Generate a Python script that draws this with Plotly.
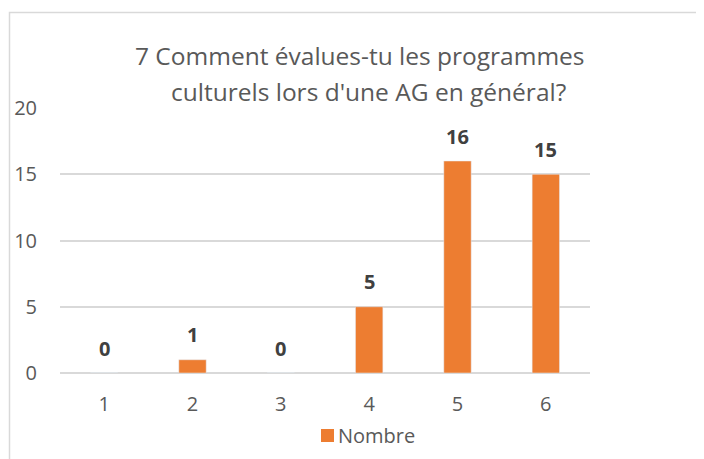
import plotly.graph_objects as go

categories = ["1", "2", "3", "4", "5", "6"]
nombre = [0, 1, 0, 5, 16, 15]
y_ticks = [0, 5, 10, 15, 20]
series_name = "Nombre"

title_lines = ["7 Comment évalues-tu les programmes",
               "culturels lors d'une AG en général?"]

# page body has an 8px margin, so the figure is a bit smaller than the window
W, H = 696, 451
ML, MR, MT, MB = 52, 114, 100, 86
FONT = "Open Sans"
GREY = "#595959"
DARK = "#404040"
ORANGE = "#ED7D31"
LINE = "#D9D9D9"

pw = W - ML - MR
ph = H - MT - MB


def px_x(x):
    return (x - ML) / pw


def px_y(y):
    return 1 - (y - MT) / ph


fig = go.Figure()
fig.add_trace(go.Bar(
    x=categories,
    y=nombre,
    name=series_name,
    marker_color=ORANGE,
    showlegend=False,
))

# bold value labels above the bars (category axis -> use index positions)
for i, v in enumerate(nombre):
    fig.add_annotation(
        x=i, y=v, text=f"<b>{v}</b>", showarrow=False,
        yanchor="middle", yshift=25,
        font=dict(family=FONT, size=20, color=DARK),
    )

fig.update_layout(
    width=W, height=H,
    margin=dict(l=ML, r=MR, t=MT, b=MB),
    paper_bgcolor="white",
    plot_bgcolor="white",
    bargap=0.69,
    font=dict(family=FONT, size=20, color=GREY),
    showlegend=False,
)

fig.update_xaxes(
    type="category",
    range=[-0.5, len(categories) - 0.5],
    automargin=False,
    showgrid=False,
    showline=False,
    ticks="",
    ticklabelstandoff=17,
    tickfont=dict(size=20, color=GREY),
)
fig.update_yaxes(
    range=[0, 20],
    tickvals=y_ticks,
    automargin=False,
    showgrid=True,
    gridcolor=LINE,
    gridwidth=1.5,
    zeroline=True,
    zerolinecolor=LINE,
    zerolinewidth=1.5,
    ticks="",
    ticklabelstandoff=22,
    tickfont=dict(size=20, color=GREY),
)

# title lines, centered as in the original
for line, cx, cy in zip(title_lines, [351.5, 360], [47, 83]):
    fig.add_annotation(
        text=line, showarrow=False,
        xref="paper", yref="paper",
        x=px_x(cx), y=px_y(cy),
        xanchor="center", yanchor="middle",
        font=dict(family=FONT, size=24.5, color=GREY),
    )

# legend: orange square + series name
fig.add_shape(
    type="rect", xref="paper", yref="paper",
    x0=px_x(313), x1=px_x(326), y0=px_y(434), y1=px_y(421),
    fillcolor=ORANGE, line=dict(width=0),
)
fig.add_annotation(
    text=series_name, showarrow=False,
    xref="paper", yref="paper",
    x=px_x(328), y=px_y(427),
    xanchor="left", yanchor="middle",
    font=dict(family=FONT, size=20, color=GREY),
)

# chart frame (only left and top edges fall inside the picture)
fig.add_shape(
    type="rect", xref="paper", yref="paper",
    x0=px_x(1.5), x1=px_x(W + 20),
    y0=px_y(H + 20), y1=px_y(4.5),
    line=dict(color=LINE, width=1.5),
    layer="below",
)

fig.write_html("out.html")
